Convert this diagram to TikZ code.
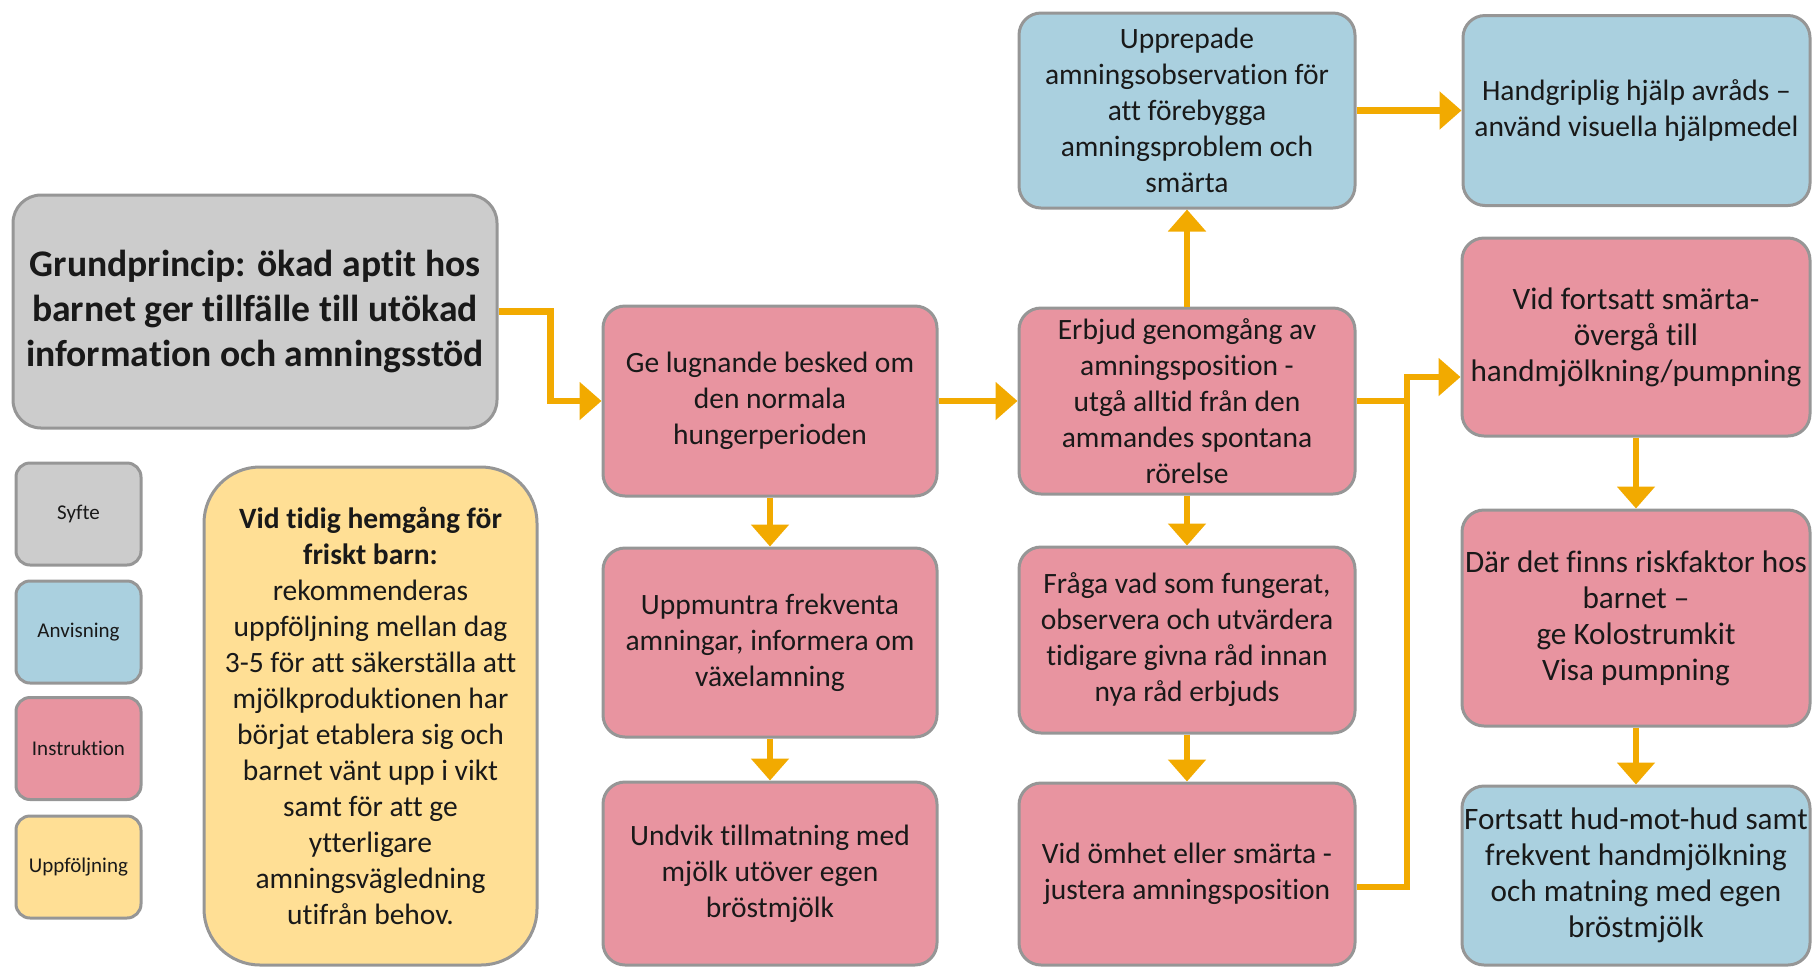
\documentclass[tikz,border=0pt]{standalone}
\usepackage{fontspec}
\setmainfont{Carlito}[Ligatures=NoCommon]
\usetikzlibrary{arrows.meta,calc}
\definecolor{gfill}{RGB}{204,204,204}
\definecolor{bfill}{RGB}{170,208,223}
\definecolor{pfill}{RGB}{232,148,160}
\definecolor{yfill}{RGB}{255,223,149}
\definecolor{edgec}{RGB}{150,150,150}
\definecolor{arrc}{RGB}{242,170,0}
\definecolor{txt}{RGB}{25,25,25}
\begin{document}
\begin{tikzpicture}[x=0.5pt,y=-0.5pt,
 box/.style={draw=edgec, line width=1.5pt, rounded corners=11pt, align=center, text=txt, inner sep=0pt, font=\fontsize{14.75}{18}\selectfont},
 pinkbox/.style={box, fill=pfill},
 bluebox/.style={box, fill=bfill},
 greybox/.style={box, fill=gfill},
 widetext/.style={font=\fontsize{15.6}{18}\selectfont},
 legbox/.style={box, rounded corners=7pt, minimum width=62.5pt, minimum height=51pt, font=\fontsize{10.5}{13}\selectfont},
 arr/.style={draw=arrc, line width=3.25pt, -{Triangle[width=18.5pt,length=11pt]}},
 conn/.style={draw=arrc, line width=3.25pt},
]
\useasboundingbox (0,0) rectangle (1812,966);

% left
\node[greybox, minimum width=242pt, minimum height=116.5pt, rounded corners=14pt, font=\bfseries\fontsize{18.8}{22.5}\selectfont] (grund) at (255,311.5)
 {Grundprincip: ökad aptit hos\\barnet ger tillfälle till utökad\\information och amningsstöd};

\node[legbox, fill=gfill] (syfte) at (78.5,514) {Syfte};
\node[legbox, fill=bfill] (anv) at (78.5,632) {Anvisning};
\node[legbox, fill=pfill] (instr) at (78.5,748.5) {Instruktion};
\node[legbox, fill=yfill] (uppf) at (78.5,867) {Uppföljning};

\node[box, fill=yfill, rounded corners=28pt, minimum width=166.5pt, minimum height=249pt] (gul) at (370.5,716)
 {\textbf{Vid tidig hemgång för}\\\textbf{friskt barn:}\\rekommenderas\\uppföljning mellan dag\\3-5 för att säkerställa att\\mjölkproduktionen har\\börjat etablera sig och\\barnet vänt upp i vikt\\samt för att ge\\ytterligare\\amningsvägledning\\utifrån behov.};

% column 2
\node[pinkbox, minimum width=167pt, minimum height=95pt] (ge) at (770,401)
 {Ge lugnande besked om\\den normala\\hungerperioden};
\node[pinkbox, minimum width=167pt, minimum height=94.5pt] (upp) at (770,642.5)
 {Uppmuntra frekventa\\amningar, informera om\\växelamning};
\node[pinkbox, minimum width=167pt, minimum height=91.5pt] (undvik) at (770,873.5)
 {Undvik tillmatning med\\mjölk utöver egen\\bröstmjölk};

% column 3
\node[bluebox, minimum width=168pt, minimum height=97.5pt] (rep) at (1187,110.5)
 {Upprepade\\amningsobservation för\\att förebygga\\amningsproblem och\\smärta};
\node[pinkbox, minimum width=168pt, minimum height=93pt] (erb) at (1187,401)
 {Erbjud genomgång av\\amningsposition -\\utgå alltid från den\\ammandes spontana\\rörelse};
\node[pinkbox, minimum width=168pt, minimum height=93pt] (fraga) at (1187,640)
 {Fråga vad som fungerat,\\observera och utvärdera\\tidigare givna råd innan\\nya råd erbjuds};
\node[pinkbox, minimum width=168pt, minimum height=91pt] (omhet) at (1187,874)
 {Vid ömhet eller smärta -\\justera amningsposition};

% column 4
\node[bluebox, minimum width=173.5pt, minimum height=95pt] (hand) at (1636.5,110.5)
 {Handgriplig hjälp avråds –\\använd visuella hjälpmedel};
\node[pinkbox, widetext, minimum width=174pt, minimum height=99pt] (fort) at (1636,337)
 {Vid fortsatt smärta-\\övergå till\\handmjölkning/pumpning};
\node[pinkbox, widetext, minimum width=174pt, minimum height=108pt] (dar) at (1636,618)
 {Där det finns riskfaktor hos\\barnet –\\ge Kolostrumkit\\Visa pumpning};
\node[bluebox, widetext, minimum width=174pt, minimum height=89.5pt] (hud) at (1636,875.5)
 {Fortsatt hud-mot-hud samt\\frekvent handmjölkning\\och matning med egen\\bröstmjölk};

% connectors
\coordinate (bus) at (1407,401);
\draw[arr] (grund.east) -- ++(52,0) |- (ge.west);
\draw[arr] (ge.east) -- (erb.west);
\draw[arr] (ge.south) -- (upp.north);
\draw[arr] (upp.south) -- (undvik.north);
\draw[arr] (erb.north) -- (rep.south);
\draw[arr] (rep.east) -- (hand.west);
\draw[arr] (erb.south) -- (fraga.north);
\draw[arr] (fraga.south) -- (omhet.north);
\draw[conn] (erb.east) -- (bus);
\draw[arr] ([yshift=-6.5pt]omhet.east) -| (bus) |- ([yshift=-20pt]fort.west);
\draw[arr] (fort.south) -- (dar.north);
\draw[arr] (dar.south) -- (hud.north);
\end{tikzpicture}
\end{document}
